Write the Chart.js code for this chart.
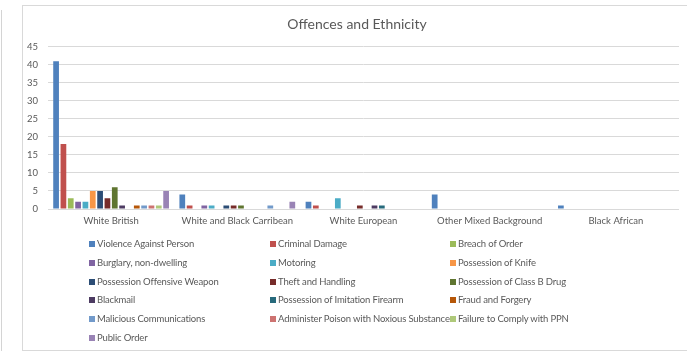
<!DOCTYPE html>
<html>
<head>
<meta charset="utf-8">
<script src="https://cdn.jsdelivr.net/npm/chart.js@4/dist/chart.umd.min.js"></script>
<style>
    html, body { margin: 0; padding: 0; background: #fff; }
    body { width: 687px; height: 351px; position: relative; overflow: hidden; font-family: Lato, "Liberation Sans", sans-serif; }
    #pageEdge { position: absolute; left: 1px; top: 10px; width: 0; height: 341px; border-left: 1px solid #d4d4d4; }
    #frame { position: absolute; left: 22px; top: 5px; width: 670px; height: 344px; border: 1px solid #d9d9d9; }
    #chartBox { position: absolute; left: 23px; top: 6px; width: 663px; height: 344px; }
    #legend { position: absolute; left: 0; top: 0; }
    .item { position: absolute; font-size: 9.5px; letter-spacing: -0.15px; color: #595959; white-space: nowrap; line-height: 12px; }
    .item span { display: inline-block; width: 6px; height: 6px; margin-right: 2px; vertical-align: 0px; }
</style>
</head>
<body>
<div id="pageEdge"></div>
<div id="frame"></div>
<div id="chartBox"><canvas id="offenceChart"></canvas></div>
<div id="legend"></div>
<script>
// ethnicity groups on the x axis
const ethnicities = ['White British', 'White and Black Carribean', 'White European', 'Other Mixed Background', 'Black African'];

// one array per offence, in the same order as ethnicities
const violenceAgainstPerson = [41, 4, 2, 4, 1];
const criminalDamage = [18, 1, 1, 0, 0];
const breachOfOrder = [3, 0, 0, 0, 0];
const burglaryNonDwelling = [2, 1, 0, 0, 0];
const motoring = [2, 1, 3, 0, 0];
const possessionOfKnife = [5, 0, 0, 0, 0];
const possessionOffensiveWeapon = [5, 1, 0, 0, 0];
const theftAndHandling = [3, 1, 1, 0, 0];
const possessionClassBDrug = [6, 1, 0, 0, 0];
const blackmail = [1, 0, 1, 0, 0];
const possessionImitationFirearm = [0, 0, 1, 0, 0];
const fraudAndForgery = [1, 0, 0, 0, 0];
const maliciousCommunications = [1, 1, 0, 0, 0];
const administerPoison = [1, 0, 0, 0, 0];
const failureToComplyPPN = [1, 0, 0, 0, 0];
const publicOrder = [5, 2, 0, 0, 0];

const yTicks = [0, 5, 10, 15, 20, 25, 30, 35, 40, 45];

const series = [
    ['Violence Against Person', violenceAgainstPerson, '#4F81BD'],
    ['Criminal Damage', criminalDamage, '#C0504D'],
    ['Breach of Order', breachOfOrder, '#9BBB59'],
    ['Burglary, non-dwelling', burglaryNonDwelling, '#8064A2'],
    ['Motoring', motoring, '#4BACC6'],
    ['Possession of Knife', possessionOfKnife, '#F79646'],
    ['Possession Offensive Weapon', possessionOffensiveWeapon, '#2C4D75'],
    ['Theft and Handling', theftAndHandling, '#772C2A'],
    ['Possession of Class B Drug', possessionClassBDrug, '#5F7530'],
    ['Blackmail', blackmail, '#4D3B62'],
    ['Possession of Imitation Firearm', possessionImitationFirearm, '#276A7C'],
    ['Fraud and Forgery', fraudAndForgery, '#B65708'],
    ['Malicious Communications', maliciousCommunications, '#729ACA'],
    ['Administer Poison with Noxious Substance', administerPoison, '#CD7371'],
    ['Failure to Comply with PPN', failureToComplyPPN, '#AFC97A'],
    ['Public Order', publicOrder, '#9983B5']
];

const datasets = series.map(function (s) {
    return {
        label: s[0],
        data: s[1],
        backgroundColor: s[2],
        borderWidth: 0,
        categoryPercentage: 0.93,
        barPercentage: 0.78
    };
});

const txt = '#595959';
const grid = '#d9d9d9';

// nudge the title box so it is centred like the original
const titleShift = {
    id: 'titleShift',
    afterLayout: function (chart) {
        if (chart.titleBlock) chart.titleBlock.left = 12;
    }
};

const chart = new Chart(document.getElementById('offenceChart'), {
    type: 'bar',
    data: { labels: ethnicities, datasets: datasets },
    plugins: [titleShift],
    options: {
        responsive: true,
        maintainAspectRatio: false,
        animation: false,
        layout: { padding: { left: 0, right: 7, top: 0, bottom: 0 } },
        plugins: {
            legend: { display: false },
            tooltip: { enabled: false },
            title: {
                display: true,
                text: 'Offences and Ethnicity',
                color: txt,
                font: { family: 'Lato', size: 14, weight: 'normal' },
                padding: { top: 10, bottom: 14 }
            }
        },
        scales: {
            x: {
                grid: { display: false, drawTicks: false },
                border: { display: false },
                ticks: { color: txt, font: { family: 'Lato', size: 9.5 }, padding: 6, maxRotation: 0 },
                afterFit: function (scale) { scale.height = 141; }
            },
            y: {
                min: 0,
                max: 45,
                afterBuildTicks: function (scale) { scale.ticks = yTicks.map(v => ({ value: v })); },
                grid: { color: grid, lineWidth: 1, drawTicks: false },
                border: { display: false },
                ticks: { color: txt, font: { family: 'Lato', size: 9.5 }, padding: 10 },
                afterFit: function (scale) { scale.width = 25; }
            }
        }
    }
});

// legend in three aligned columns, built from the same series list
const legendBox = document.getElementById('legend');
const colX = [89, 270, 450];
const rowY = [238, 257, 276, 294, 313, 332];
series.forEach(function (s, i) {
    const el = document.createElement('div');
    el.className = 'item';
    el.style.left = colX[i % 3] + 'px';
    el.style.top = rowY[Math.floor(i / 3)] + 'px';
    el.innerHTML = '<span style="background:' + s[2] + '"></span>' + s[0];
    legendBox.appendChild(el);
});
</script>
</body>
</html>
